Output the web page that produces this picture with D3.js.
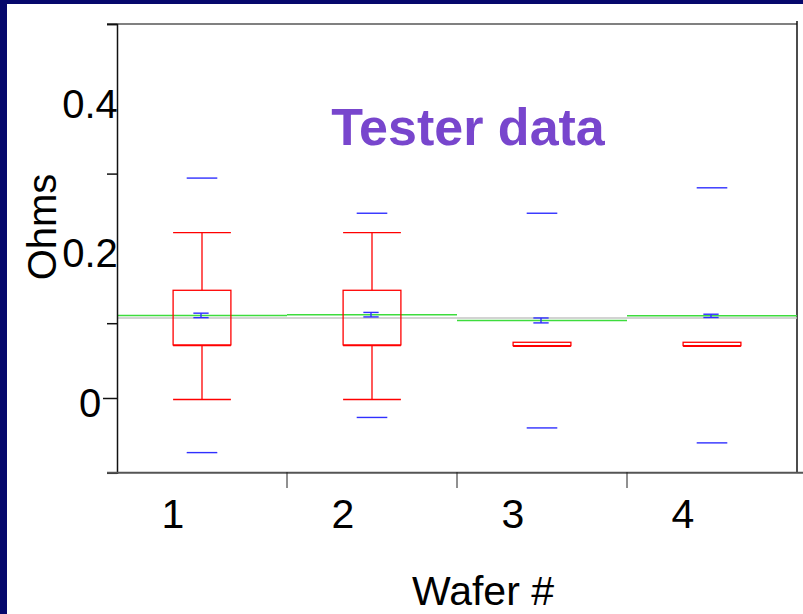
<!DOCTYPE html>
<html>
<head>
<meta charset="utf-8">
<script src="https://cdn.jsdelivr.net/npm/d3@7.9.0/dist/d3.min.js"></script>
<style>
  html, body { margin: 0; padding: 0; background: #06086c; }
  svg { display: block; font-family: "Liberation Sans", Arial, sans-serif; }
</style>
</head>
<body>
<svg id="chart" width="803" height="614"></svg>
<script>
// values
const wafers = ["1", "2", "3", "4"];
const whiskerHi = [0.221, 0.221, 0.0745, 0.0745];
const q3 = [0.144, 0.144, 0.0745, 0.0745];
const q1 = [0.071, 0.071, 0.070, 0.070];
const whiskerLo = [-0.002, -0.002, 0.070, 0.070];
const maxVals = [0.294, 0.247, 0.247, 0.281];
const minVals = [-0.073, -0.026, -0.040, -0.060];
const means = [0.1104, 0.1114, 0.1037, 0.1098];
const meanErr = [0.003, 0.003, 0.0033, 0.0022];
const grandMean = 0.107;
const yTicks = [-0.1, 0, 0.1, 0.3, 0.5];
const yLabels = [0, 0.2, 0.4];

let svg = d3.select('#chart');

// slide background + white panel
svg.append('rect').attr('width', 803).attr('height', 614).attr('fill', '#06086c');
svg.append('rect').attr('x', 7).attr('y', 4).attr('width', 796).attr('height', 610).attr('fill', '#fff');

let x = d3.scaleBand().domain(wafers).range([117, 797]).padding(0);
let y = d3.scaleLinear().domain([-0.1, 0.5]).range([472.8, 24]);

let bw = x.bandwidth();
let boxW = bw * 0.34;
let capW = bw * 0.34;
let extW = bw * 0.18;
let meanW = bw * 0.09;

// frame: top grey, right black
svg.append('line').attr('x1', 107).attr('x2', 797).attr('y1', 24).attr('y2', 24)
  .attr('stroke', '#808080').attr('stroke-width', 2);
svg.append('line').attr('x1', 797).attr('x2', 797).attr('y1', 21).attr('y2', 473)
  .attr('stroke', '#111').attr('stroke-width', 1.5);

// grand mean + group means
svg.append('line').attr('x1', 117).attr('x2', 797)
  .attr('y1', y(grandMean)).attr('y2', y(grandMean))
  .attr('stroke', '#c4c4c4').attr('stroke-width', 1.5);

wafers.forEach((w, i) => {
  svg.append('line').attr('x1', x(w)).attr('x2', x(w) + bw)
    .attr('y1', y(means[i])).attr('y2', y(means[i]))
    .attr('stroke', '#3ddc3d').attr('stroke-width', 1.5);
});

// boxes
wafers.forEach((w, i) => {
  let cx = x(w) + bw / 2;
  let g = svg.append('g').attr('stroke', '#f00').attr('stroke-width', 1.3).attr('fill', 'none');

  g.append('line').attr('x1', cx).attr('x2', cx).attr('y1', y(whiskerHi[i])).attr('y2', y(q3[i]));
  g.append('line').attr('x1', cx).attr('x2', cx).attr('y1', y(q1[i])).attr('y2', y(whiskerLo[i]));
  if (whiskerHi[i] > q3[i]) {
    g.append('line').attr('x1', cx - capW / 2).attr('x2', cx + capW / 2)
      .attr('y1', y(whiskerHi[i])).attr('y2', y(whiskerHi[i]));
  }
  if (whiskerLo[i] < q1[i]) {
    g.append('line').attr('x1', cx - capW / 2).attr('x2', cx + capW / 2)
      .attr('y1', y(whiskerLo[i])).attr('y2', y(whiskerLo[i]));
  }
  g.append('rect').attr('x', cx - boxW / 2).attr('width', boxW)
    .attr('y', y(q3[i])).attr('height', Math.max(y(q1[i]) - y(q3[i]), 3));
  g.append('line').attr('x1', cx - boxW / 2).attr('x2', cx + boxW / 2)
    .attr('y1', y(q1[i]) + 0.8).attr('y2', y(q1[i]) + 0.8);

  // min / max marks
  let b = svg.append('g').attr('stroke', '#3030ff').attr('stroke-width', 1.4);
  [maxVals[i], minVals[i]].forEach(v => {
    b.append('line').attr('x1', cx - extW / 2).attr('x2', cx + extW / 2)
      .attr('y1', y(v)).attr('y2', y(v));
  });

  // mean with error bar
  let mx = cx - 1;
  b.append('line').attr('x1', mx).attr('x2', mx)
    .attr('y1', y(means[i] + meanErr[i])).attr('y2', y(means[i] - meanErr[i]));
  [means[i] + meanErr[i], means[i] - meanErr[i]].forEach(v => {
    b.append('line').attr('x1', mx - meanW / 2).attr('x2', mx + meanW / 2)
      .attr('y1', y(v)).attr('y2', y(v));
  });
});

// y axis
let yAxis = d3.axisLeft(y).tickValues(yTicks).tickSize(10).tickFormat('');
let ya = svg.append('g').attr('transform', 'translate(117,0)').call(yAxis);
ya.select('.domain').attr('stroke', '#111').attr('stroke-width', 1.5);
ya.selectAll('.tick line').attr('stroke', '#111').attr('stroke-width', 1.5)
  .attr('x2', d => d === 0 ? -14 : -10);

svg.append('g').selectAll('text').data(yLabels).join('text')
  .attr('x', 90).attr('y', d => y(d) + 19)
  .attr('text-anchor', 'middle').attr('font-size', 40).attr('fill', '#000')
  .text(d => d3.format('')(d));

// x axis
let xa = svg.append('g').attr('transform', 'translate(0,472.8)')
  .call(d3.axisBottom(x).tickSize(0).tickFormat(''));
xa.select('.domain').attr('d', 'M107,0H803').attr('stroke', '#555').attr('stroke-width', 2);
svg.append('g').selectAll('line').data(wafers.slice(1)).join('line')
  .attr('x1', d => x(d)).attr('x2', d => x(d))
  .attr('y1', 472).attr('y2', 488).attr('stroke', '#222').attr('stroke-width', 1);

svg.append('g').selectAll('text').data(wafers).join('text')
  .attr('x', d => x(d) + bw / 2 - 29).attr('y', 528)
  .attr('text-anchor', 'middle').attr('font-size', 41).attr('fill', '#000')
  .text(d => d);

// titles
svg.append('text').attr('x', 483).attr('y', 605).attr('text-anchor', 'middle')
  .attr('font-size', 41).attr('fill', '#000').text('Wafer #');

svg.append('text').attr('transform', 'translate(56,227) rotate(-90)')
  .attr('text-anchor', 'middle').attr('font-size', 40).attr('fill', '#000').text('Ohms');

svg.append('text').attr('x', 468).attr('y', 145).attr('text-anchor', 'middle')
  .attr('font-size', 52).attr('font-weight', 'bold').attr('fill', '#7846cd')
  .text('Tester data');
</script>
</body>
</html>
